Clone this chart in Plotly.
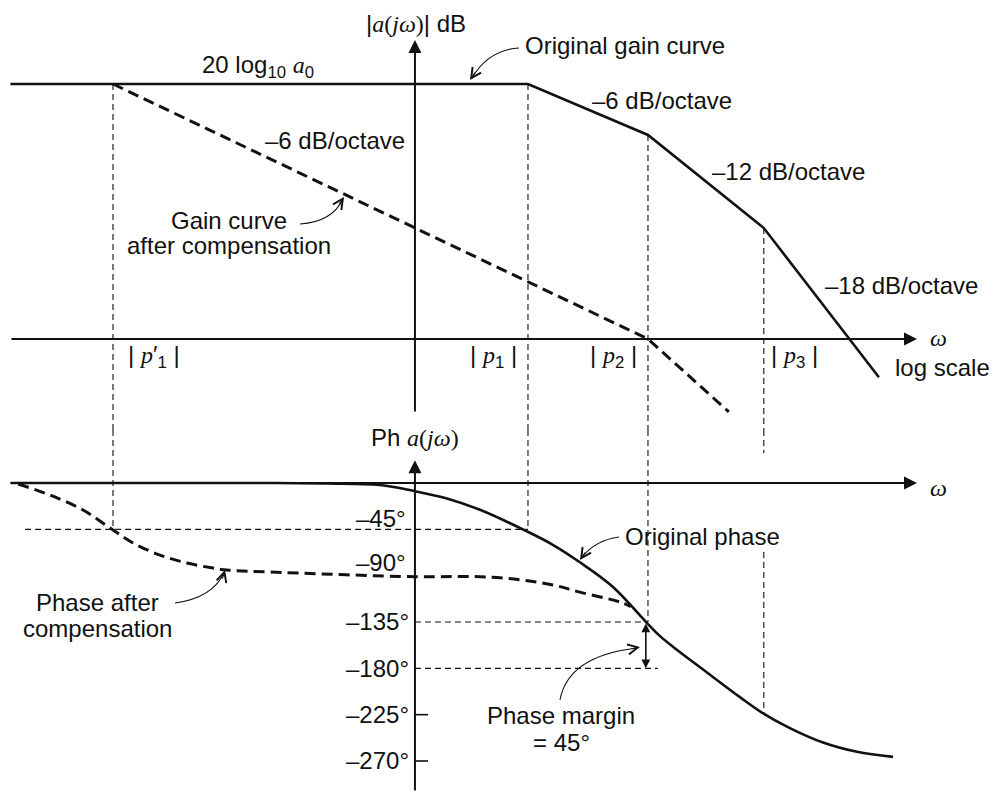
import numpy as np
import plotly.graph_objects as go

# ---------------- data ----------------
# frequencies (rad/s, log scale) of the poles
p1c = 10.0       # |p1'|  compensated dominant pole
p1 = 7.56e4      # |p1|
p2 = 1.0e6       # |p2|
p3 = 1.21e7      # |p3|
w_axis = 6640.0  # where the vertical axes cross the omega axis
a0_db = 100      # 20 log10 a0

# original gain curve (asymptotes)
gain_orig_w = [1.1, 7.56e4, 1.0e6, 1.21e7, 1.44e8]
gain_orig_db = [100, 100, 80, 43.5, -15]
# gain curve after compensation
gain_comp_w = [10.0, 1.0e6, 5.7e6]
gain_comp_db = [100, 0, -28.6]

# original phase
phase_orig_w = [1.1, 300, 1000, 3130, 6640, 1.32e4, 2.69e4, 7.4e4, 1.29e5, 2.31e5,
                4.71e5, 9.8e5, 1.29e6, 1.71e6, 3.56e6, 7.24e6, 1.16e7, 2.12e7,
                4.32e7, 8.97e7, 1.95e8]
phase_orig_deg = [0, 0, -0.5, -2, -8, -15, -26, -47, -60, -77,
                  -101, -136, -148.5, -159, -184, -208, -223, -238,
                  -252, -261, -266]
# phase after compensation
phase_comp_w = [1.3, 2.58, 5.25, 9.4, 15.4, 27.5, 49.2, 86, 116, 293, 6640,
                2.69e4, 6.37e4, 1.29e5, 2.31e5, 5.47e5, 6.9e5]
phase_comp_deg = [-1, -11.7, -26.2, -43.7, -58.3, -70, -77.7, -82.6, -84.5, -86.4, -91,
                  -91, -94, -99, -106, -115.6, -120]

phase_ticks = [-135, -180, -225, -270]
phase_ticktext = ["–135°", "–180°", "–225°", "–270°"]
phase_ticks_upper = [-45, -90]
phase_ticktext_upper = ["–45°", "–90°"]

# ---------------- layout constants ----------------
W, H = 994, 792
XRANGE = [-0.056, 9.234]           # log10(omega) at left / right edge
SPLIT = 1 - 430 / H                # boundary between gain and phase panels
GAIN_RANGE = [-35.69, 132.94]
PHASE_RANGE = [-300.1, 51.48]
W_LEFT = 1.09
W_TIP = 3.27e8

SANS = "Liberation Sans, Arial, Helvetica, sans-serif"
FS = 24
BLACK = "#111111"


def px(x):
    return x / W


def py(y):
    return 1 - y / H


def it(s):
    return f'<span style="font-family:Liberation Serif;font-style:italic">{s}</span>'


def rm(s):
    return f'<span style="font-family:Liberation Serif">{s}</span>'


fig = go.Figure()

# gain curves
fig.add_trace(go.Scatter(x=gain_orig_w, y=gain_orig_db, mode="lines",
                         line=dict(color=BLACK, width=2.6), xaxis="x", yaxis="y",
                         showlegend=False, hoverinfo="skip"))
fig.add_trace(go.Scatter(x=gain_comp_w, y=gain_comp_db, mode="lines",
                         line=dict(color=BLACK, width=3, dash="11px,6px"), xaxis="x", yaxis="y",
                         showlegend=False, hoverinfo="skip"))
# phase curves
fig.add_trace(go.Scatter(x=phase_orig_w, y=phase_orig_deg, mode="lines",
                         line=dict(color=BLACK, width=2.6, shape="spline", smoothing=1.0),
                         xaxis="x", yaxis="y2", showlegend=False, hoverinfo="skip"))
fig.add_trace(go.Scatter(x=phase_comp_w, y=phase_comp_deg, mode="lines",
                         line=dict(color=BLACK, width=3, dash="11px,6px", shape="spline", smoothing=1.0),
                         xaxis="x", yaxis="y2", showlegend=False, hoverinfo="skip"))

shapes = []
thin = dict(color=BLACK, width=1.1, dash="6px,4px")


def vguide(w, top_db, bot_deg, gaps=None):
    shapes.append(dict(type="line", xref="x", yref="y", x0=w, x1=w,
                       y0=top_db, y1=GAIN_RANGE[0], line=thin))
    segs = [(PHASE_RANGE[1], bot_deg)] if gaps is None else gaps
    for a, b in segs:
        shapes.append(dict(type="line", xref="x", yref="y2", x0=w, x1=w,
                           y0=a, y1=b, line=thin))


vguide(p1c, a0_db, -45)
vguide(p1, a0_db, -45)
vguide(p2, 80, -135)
vguide(p3, 43.5, -225, gaps=[(PHASE_RANGE[1], 29), (-67, -225)])

# horizontal guides in phase panel
shapes.append(dict(type="line", xref="x", yref="y2", x0=1.51, x1=p1, y0=-45, y1=-45, line=thin))
shapes.append(dict(type="line", xref="x", yref="y2", x0=w_axis, x1=p2, y0=-135, y1=-135, line=thin))
shapes.append(dict(type="line", xref="x", yref="y2", x0=w_axis, x1=1.24e6, y0=-180, y1=-180, line=thin))

# small ticks for -225 and -270
for t in (-225, -270):
    shapes.append(dict(type="line", xref="paper", yref="y2", x0=px(415), x1=px(428),
                       y0=t, y1=t, line=dict(color=BLACK, width=1.6)))


# curved leaders
def qpath(a, c, b):
    return (f"M {px(a[0])},{py(a[1])} Q {px(c[0])},{py(c[1])} "
            f"{px(b[0])},{py(b[1])}")


leaders = [
    ((519, 48), (488, 50), (472, 78)),      # original gain curve
    ((300, 224), (332, 222), (343, 199)),   # gain curve after compensation
    ((619, 537), (596, 540), (582, 557)),   # original phase
    ((175, 603), (212, 598), (224, 573)),   # phase after compensation
    ((560, 700), (568, 656), (637, 648)),   # phase margin
]
for a, c, b in leaders:
    shapes.append(dict(type="path", xref="paper", yref="paper", path=qpath(a, c, b),
                       line=dict(color=BLACK, width=1.1)))

annotations = []


def arrow_head(tip, dx, dy):
    annotations.append(dict(x=px(tip[0]), y=py(tip[1]), xref="paper", yref="paper",
                            ax=dx, ay=dy, text="", showarrow=True, arrowhead=5,
                            arrowsize=1.8, arrowwidth=1.1, arrowcolor=BLACK,
                            standoff=0, startstandoff=0))


arrow_head((470, 80), 6, -9)
arrow_head((344, 197), -6, 9)
arrow_head((580, 560), 6, -9)
arrow_head((225, 570), -3, 10)
arrow_head((640, 647), -10, 2)


def axis_arrow(x, y, ax, ay, yref):
    annotations.append(dict(x=x, y=y, ax=ax, ay=ay, xref="x", yref=yref,
                            axref="x", ayref=yref, text="", showarrow=True,
                            arrowhead=2, arrowsize=1.3, arrowwidth=2, arrowcolor=BLACK,
                            standoff=0, startstandoff=0))


lw = np.log10
axis_arrow(lw(W_TIP), 0, lw(W_LEFT), 0, "y")
axis_arrow(lw(w_axis), 117.3, lw(w_axis), -29, "y")
axis_arrow(lw(W_TIP), 0, lw(1.1), 0, "y2")
axis_arrow(lw(w_axis), 22, lw(w_axis), PHASE_RANGE[0], "y2")

# phase margin double arrow
annotations.append(dict(x=lw(p2) - 0.02, y=-180, ax=lw(p2) - 0.02, ay=-135, xref="x", yref="y2",
                        axref="x", ayref="y2", text="", showarrow=True, arrowhead=2,
                        arrowside="end+start", arrowsize=1.1, arrowwidth=1.6,
                        arrowcolor=BLACK, standoff=0, startstandoff=0))

# upper phase tick labels sit just above their levels
for v, t, ys in zip(phase_ticks_upper, phase_ticktext_upper, (11, 13)):
    annotations.append(dict(text=t, x=px(415), y=v, xref="paper", yref="y2",
                            xanchor="right", yanchor="middle", xshift=-7, yshift=ys,
                            showarrow=False, font=dict(family=SANS, size=FS, color=BLACK)))


def label(text, x, y, xanchor="left", xref="paper", xshift=0):
    annotations.append(dict(text=text, x=x, y=y, xref=xref, yref="paper",
                            xanchor=xanchor, yanchor="middle", showarrow=False,
                            xshift=xshift, font=dict(family=SANS, size=FS, color=BLACK)))


label("|" + it("a") + rm("(") + it("j&#969;") + rm(")") + "| dB", px(416), py(23), "center")
label("20 log<sub>10</sub> " + it("a") + "<sub>0</sub>", px(200), py(66))
label("Original gain curve", px(523), py(46))
label("–6 dB/octave", px(590), py(101))
label("–12 dB/octave", px(710), py(171))
label("–18 dB/octave", px(823), py(285))
label("–6 dB/octave", px(263), py(140))
label("Gain curve", px(229), py(221), "center")
label("after compensation", px(229), py(246), "center")
label("| " + it("p") + "′<sub>1</sub> |", lw(p1c), py(356), "left", "x", 13)
label("| " + it("p") + "<sub>1</sub> |", lw(p1), py(356), "right", "x", -9)
label("| " + it("p") + "<sub>2</sub> |", lw(p2), py(357), "right", "x", -9)
label("| " + it("p") + "<sub>3</sub> |", lw(p3), py(357), "left", "x", 5)
label(it("&#969;"), px(938), py(338), "center")
label("log scale", px(942), py(367), "center")
label("Ph " + it("a") + rm("(") + it("j&#969;") + rm(")"), px(415), py(437), "center")
label(it("&#969;"), px(938), py(488), "center")
label("Original phase", px(623), py(536))
label("Phase after", px(97), py(602), "center")
label("compensation", px(97), py(628), "center")
label("Phase margin", px(561), py(715), "center")
label("= 45°", px(561), py(742), "center")

fig.update_layout(
    width=W, height=H,
    margin=dict(l=0, r=0, t=0, b=0, pad=0),
    template="none",
    paper_bgcolor="white", plot_bgcolor="white",
    showlegend=False,
    xaxis=dict(type="log", range=XRANGE, domain=[0, 1], visible=False, anchor="y"),
    yaxis=dict(domain=[SPLIT, 1], range=GAIN_RANGE, visible=False),
    yaxis2=dict(domain=[0, SPLIT], range=PHASE_RANGE, anchor="free", position=px(415),
                side="left", tickvals=phase_ticks, ticktext=phase_ticktext,
                showgrid=False, zeroline=False, showline=False, ticks="",
                ticklabelstandoff=6,
                tickfont=dict(family=SANS, size=FS, color=BLACK)),
    shapes=shapes,
    annotations=annotations,
)

fig.write_html("out.html", config={"displayModeBar": False},
               post_script="document.body.style.margin='0';")
